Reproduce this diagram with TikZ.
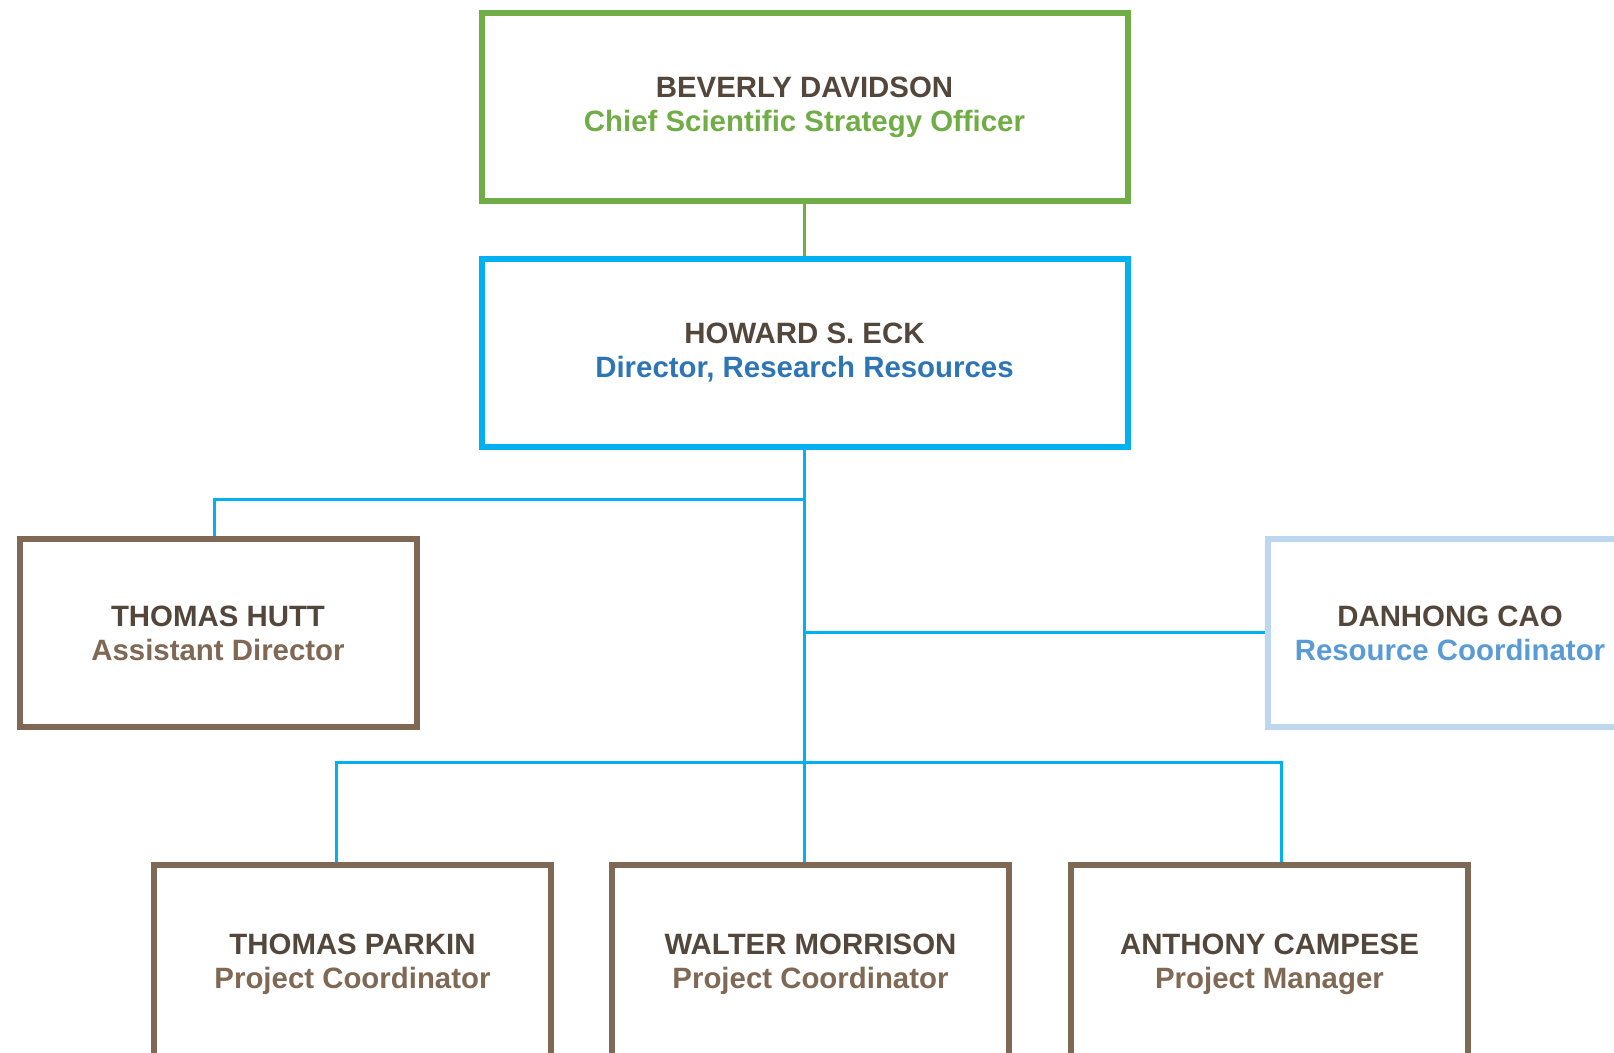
\documentclass[tikz,border=0pt]{standalone}
\usepackage{fontspec}
\setmainfont{Liberation Sans}
\usetikzlibrary{positioning}
\usepackage{xcolor}
\definecolor{ink}{RGB}{83,70,58}
\definecolor{leafgreen}{RGB}{112,173,71}
\definecolor{skyblue}{RGB}{0,176,240}
\definecolor{deepblue}{RGB}{46,117,182}
\definecolor{bark}{RGB}{127,105,85}
\definecolor{paleblue}{RGB}{189,215,238}
\definecolor{midblue}{RGB}{91,155,213}

\begin{document}
\begin{tikzpicture}[x=0.5pt,y=-0.5pt,
  person/.style={rectangle,draw,line width=3pt,align=center,minimum height=94pt,
    font=\bfseries\fontsize{14.7pt}{17pt}\selectfont},
  wide/.style={minimum width=323pt},
  narrow/.style={minimum width=198.5pt},
  link/.style={line width=1.5pt,skyblue}]
\clip (0,0) rectangle (1614,1053);
\useasboundingbox (0,0) rectangle (1614,1053);

\node [person,wide,draw=leafgreen,text=leafgreen] (beverly) at (804.5,107) {\textcolor{ink}{BEVERLY DAVIDSON}\\Chief Scientific Strategy Officer};
\node [person,wide,draw=skyblue,text=deepblue,below=26pt,at=(beverly.south)] (howard) {\textcolor{ink}{HOWARD S. ECK}\\Director, Research Resources};
\node [person,narrow,draw=bark,text=bark] (hutt) at (218,633) {\textcolor{ink}{THOMAS HUTT}\\Assistant Director};
\node [person,draw=paleblue,text=midblue,minimum width=182pt] (cao) at (1450,633) {\textcolor{ink}{DANHONG CAO}\\Resource Coordinator};
\node [person,narrow,draw=bark,text=bark,minimum height=99pt] (morrison) at (810.5,964) {\textcolor{ink}{WALTER MORRISON}\\Project Coordinator};
\node [person,narrow,draw=bark,text=bark,minimum height=99pt,left=27.5pt,at=(morrison.west)] (parkin) {\textcolor{ink}{THOMAS PARKIN}\\Project Coordinator};
\node [person,narrow,draw=bark,text=bark,minimum height=99pt,right=28pt,at=(morrison.east)] (campese) {\textcolor{ink}{ANTHONY CAMPESE}\\Project Manager};

\coordinate (split) at (804,500);
\coordinate (bus) at (804,763);

\draw [line width=1.5pt,leafgreen] (beverly.south) -- (howard.north);
\draw [link] (howard.south) -- (howard.south |- morrison.north);
\draw [link] (split) -| ([xshift=-2pt]hutt.north);
\draw [link] (howard.south |- cao.west) -- (cao.west);
\draw [link] ([xshift=-8pt]parkin.north) |- (bus) -| ([xshift=6pt]campese.north);
\end{tikzpicture}
\end{document}
